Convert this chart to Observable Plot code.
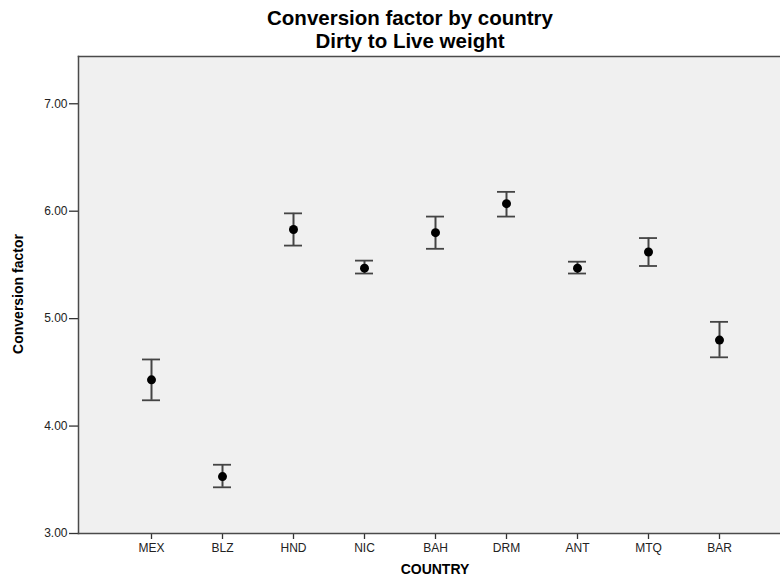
<!DOCTYPE html>
<html>
<head>
<meta charset="utf-8">
<script src="https://cdn.jsdelivr.net/npm/d3@7"></script>
<script src="https://cdn.jsdelivr.net/npm/@observablehq/plot@0.6"></script>
<style>
  html, body { margin: 0; padding: 0; background: #fff; overflow: hidden; }
  #wrap { position: relative; width: 780px; height: 576px; overflow: hidden; font-family: "Liberation Sans", Arial, sans-serif; }
  #chart { position: absolute; left: 0; top: 0; width: 780px; }
  #chart svg { max-width: none !important; overflow: hidden; }
  .t { position: absolute; white-space: nowrap; font-weight: bold; color: #000; line-height: 1; }
</style>
</head>
<body>
<div id="wrap">
  <div id="chart"></div>
  <div class="t" id="title1" style="left:410px; top:8px; font-size:20.5px; transform:translateX(-50%);">Conversion factor by country</div>
  <div class="t" id="title2" style="left:410px; top:31px; font-size:20.5px; transform:translateX(-50%);">Dirty to Live weight</div>
  <div class="t" id="ylab" style="left:18px; top:294px; font-size:14px; transform:translate(-50%,-50%) rotate(-90deg);">Conversion factor</div>
  <div class="t" id="xlab" style="left:435px; top:562px; font-size:14px; transform:translateX(-50%);">COUNTRY</div>
</div>
<script>
const countries = ["MEX", "BLZ", "HND", "NIC", "BAH", "DRM", "ANT", "MTQ", "BAR"];
const meanValues = [4.43, 3.53, 5.83, 5.47, 5.80, 6.07, 5.47, 5.62, 4.80];
const lowerValues = [4.24, 3.43, 5.68, 5.42, 5.65, 5.95, 5.42, 5.49, 4.64];
const upperValues = [4.62, 3.64, 5.98, 5.54, 5.95, 6.18, 5.53, 5.75, 4.97];
const yTicks = [3, 4, 5, 6, 7];

const data = countries.map((c, i) => ({
  country: c, mean: meanValues[i], lo: lowerValues[i], hi: upperValues[i]
}));

const edge = { stroke: "#4a4a4a", strokeWidth: 1.5 };

const chart = Plot.plot({
  width: 780,
  height: 576,
  marginLeft: 78,
  marginRight: -12,
  marginTop: 56,
  marginBottom: 43,
  style: { fontFamily: "'Liberation Sans', Arial, sans-serif", fontSize: "12px", color: "#222", background: "transparent", maxWidth: "none" },
  x: { type: "band", domain: countries, paddingInner: 0.7474, paddingOuter: 0.884, label: null },
  y: { domain: [3, 7.44], label: null },
  marks: [
    Plot.frame({ fill: "#f0f0f0", stroke: null }),
    Plot.frame({ anchor: "top", ...edge }),
    Plot.axisY({ ticks: yTicks, tickFormat: d3.format(".2f"), tickSize: 9, tickPadding: 2, label: null, fontSize: 12, stroke: "#333", strokeWidth: 1.3 }),
    Plot.axisX({ tickSize: 6, tickPadding: 4, label: null, fontSize: 12, stroke: "#333", strokeWidth: 1.3 }),
    Plot.frame({ anchor: "left", ...edge }),
    Plot.frame({ anchor: "bottom", ...edge }),
    Plot.ruleX(data, { x: "country", y1: "lo", y2: "hi", stroke: "#444", strokeWidth: 2 }),
    Plot.tickY(data, { x: "country", y: "hi", stroke: "#444", strokeWidth: 1.8 }),
    Plot.tickY(data, { x: "country", y: "lo", stroke: "#444", strokeWidth: 1.8 }),
    Plot.dot(data, { x: "country", y: "mean", r: 4.5, fill: "#000", stroke: null })
  ]
});
document.getElementById("chart").appendChild(chart);
</script>
</body>
</html>
